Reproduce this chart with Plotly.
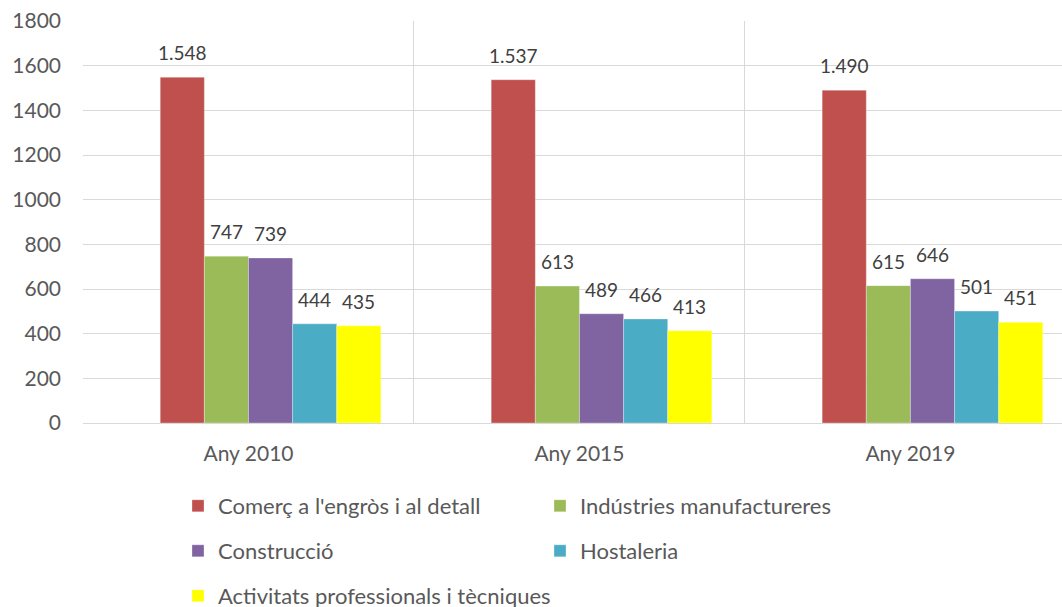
import plotly.graph_objects as go

categories = ["Any 2010", "Any 2015", "Any 2019"]
series_names = [
    "Comerç a l'engròs i al detall",
    "Indústries manufactureres",
    "Construcció",
    "Hostaleria",
    "Activitats professionals i tècniques",
]
comerc = [1548, 1537, 1490]
industries = [747, 613, 615]
construccio = [739, 489, 646]
hostaleria = [444, 466, 501]
activitats = [435, 413, 451]
series_values = [comerc, industries, construccio, hostaleria, activitats]
colors = ["#C0504D", "#9BBB59", "#8064A2", "#4BACC6", "#FFFF00"]
y_ticks = [0, 200, 400, 600, 800, 1000, 1200, 1400, 1600, 1800]

W, H = 1062, 607
FONT = "Lato"
TXT = "#595959"
BARGAP = 0.2
N_SLOTS = 6  # one empty leading slot + 5 series

fig = go.Figure()
# empty leading series (hidden slot in the original grouped chart)
fig.add_trace(go.Bar(x=categories, y=[None, None, None], showlegend=False,
                     hoverinfo="skip"))

legend_slots = [(0, 0), (1, 0), (0, 1), (1, 1), (0, 2)]
col_x = [178, 540]
row_y = [506, 551, 596]

annotations = []
for i, (name, vals, col) in enumerate(zip(series_names, series_values, colors)):
    lg = "legend" if i == 0 else f"legend{i+1}"
    fig.add_trace(go.Bar(
        x=categories, y=vals, name=name,
        marker=dict(color=col, line=dict(color="rgba(255,255,255,0.6)", width=0.5)),
        legend=lg,
    ))
    slot = i + 1
    offset = (slot - (N_SLOTS - 1) / 2) * (1 - BARGAP) / N_SLOTS
    for ci, v in enumerate(vals):
        annotations.append(dict(
            x=ci + offset, y=v, xref="x", yref="y",
            text=f"{v:,}".replace(",", "."),
            showarrow=False, yanchor="bottom", yshift=11,
            font=dict(family=FONT, size=19, color="#404040"),
        ))

layout_legends = {}
for i, (c, r) in enumerate(legend_slots):
    key = "legend" if i == 0 else f"legend{i+1}"
    layout_legends[key] = dict(
        xref="container", yref="container",
        x=col_x[c] / W, y=1 - row_y[r] / H,
        xanchor="left", yanchor="middle",
        font=dict(family=FONT, size=22, color=TXT),
        bgcolor="rgba(0,0,0,0)", itemwidth=30,
    )

fig.update_layout(
    width=W, height=H,
    margin=dict(l=83, r=0, t=21, b=184, autoexpand=False),
    paper_bgcolor="white", plot_bgcolor="white",
    barmode="group", bargap=BARGAP, bargroupgap=0,
    font=dict(family=FONT, size=21, color=TXT),
    annotations=annotations,
    xaxis=dict(
        type="category", range=[-0.5, 2.458],
        tickson="boundaries", showgrid=True, gridcolor="#D9D9D9", gridwidth=1,
        ticks="", showline=True, linecolor="#D9D9D9", linewidth=1,
        tickfont=dict(family=FONT, size=21, color=TXT),
        ticklabelstandoff=12,
    ),
    yaxis=dict(
        range=[0, 1800], tickvals=y_ticks, tickformat="d",
        showgrid=True, gridcolor="#D9D9D9", gridwidth=1,
        zeroline=False, showline=False, ticks="",
        tickfont=dict(family=FONT, size=21, color=TXT),
        ticklabelstandoff=21,
    ),
    **layout_legends,
)

fig.write_html("out.html", config={"displayModeBar": False},
               post_script="document.body.style.margin='0';")
